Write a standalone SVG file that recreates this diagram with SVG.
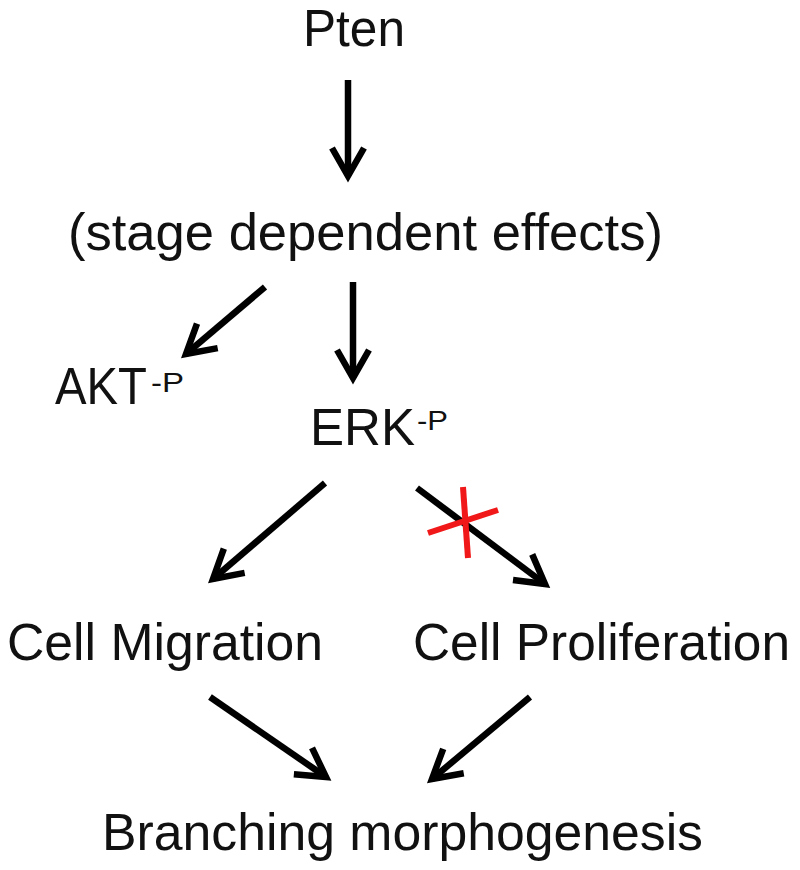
<svg xmlns="http://www.w3.org/2000/svg" width="800" height="870" viewBox="0 0 800 870">
<style>
  .t { font-family: "Liberation Sans", Arial, sans-serif; font-size: 52px; fill: #111; }
  .sup { font-size: 28px; }
  .c line { stroke: #000; stroke-width: 6.5; }
  .x line { stroke: #f01818; stroke-width: 6; }
</style>
<defs>
  <marker id="ah" markerUnits="userSpaceOnUse" viewBox="-4 -4 40 42" markerWidth="40" markerHeight="42" refX="28" refY="16" orient="auto">
    <path d="M0,0 L28,16 L0,32" fill="none" stroke="#000" stroke-width="6.5" stroke-linejoin="miter"/>
  </marker>
</defs>
<rect width="800" height="870" fill="#fff"/>
<g id="pten"><text class="t" x="303" y="46" textLength="102" lengthAdjust="spacingAndGlyphs">Pten</text></g>
<g id="stage"><text class="t" x="68" y="250" textLength="595" lengthAdjust="spacingAndGlyphs">(stage dependent effects)</text></g>
<g id="akt"><text class="t" font-size="48" x="55" y="404"><tspan textLength="92" lengthAdjust="spacingAndGlyphs">AKT</tspan><tspan class="sup" x="151" y="392" textLength="33" lengthAdjust="spacingAndGlyphs">-P</tspan></text></g>
<g id="erk"><text class="t" x="310" y="445"><tspan textLength="105" lengthAdjust="spacingAndGlyphs">ERK</tspan><tspan class="sup" x="417" y="430" textLength="31" lengthAdjust="spacingAndGlyphs">-P</tspan></text></g>
<g id="migration"><text class="t" x="7" y="660" textLength="316" lengthAdjust="spacingAndGlyphs">Cell Migration</text></g>
<g id="proliferation"><text class="t" x="413" y="660" textLength="377" lengthAdjust="spacingAndGlyphs">Cell Proliferation</text></g>
<g id="branching"><text class="t" x="102" y="850" textLength="601" lengthAdjust="spacingAndGlyphs">Branching morphogenesis</text></g>
<g id="connectors" class="c">
  <line x1="348" y1="80" x2="348" y2="176" marker-end="url(#ah)"/>
  <line x1="265" y1="287" x2="186" y2="354" marker-end="url(#ah)"/>
  <line x1="353" y1="282" x2="353" y2="378" marker-end="url(#ah)"/>
  <line x1="325" y1="483" x2="213" y2="579" marker-end="url(#ah)"/>
  <line x1="417" y1="488" x2="545" y2="584" marker-end="url(#ah)"/>
  <line x1="210" y1="697" x2="326" y2="777" marker-end="url(#ah)"/>
  <line x1="530" y1="697" x2="432" y2="779" marker-end="url(#ah)"/>
</g>
<g id="block" class="x">
  <line x1="463" y1="487" x2="468" y2="558"/>
  <line x1="428" y1="533" x2="498" y2="510"/>
</g>
</svg>
